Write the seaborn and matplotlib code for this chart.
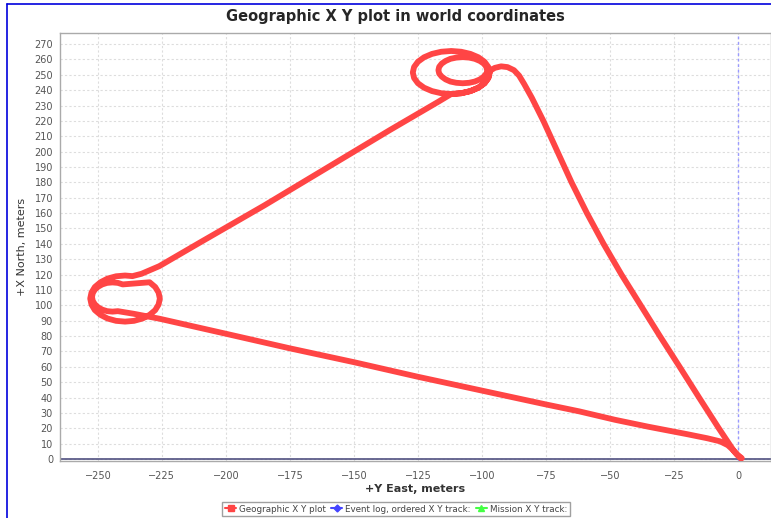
import matplotlib
matplotlib.use("Agg")
import matplotlib.pyplot as plt
import seaborn as sns
import pandas as pd
from matplotlib.lines import Line2D

# track, in flight order (east, north) in meters
leg_up_east = [1.5, 0, -1.5, -3.5, -7.5, -15.2, -22.8, -30.5, -38, -45.5, -52.5, -59, -65,
               -70.5, -76, -80.5, -83.5, -85.5, -87.5, -90, -92.5, -95, -97]
leg_up_north = [0.5, 2.5, 5, 10, 20, 40, 60, 80, 100, 120, 140, 160, 180,
                200, 220, 235, 244, 249.5, 253, 255, 255.5, 254.5, 252.5]

top_small_east = [-98.3, -99.3, -100.8, -102.8, -105, -107.5, -110, -112.3, -114.2, -115.7,
                  -116.7, -117, -116.7, -115.7, -114.2, -112.3, -110, -107.5, -105, -102.8,
                  -100.8, -99.3, -98.3, -98]
top_small_north = [250.8, 248.8, 247, 245.6, 244.8, 244.5, 244.8, 245.6, 247, 248.8,
                   250.8, 253, 255.2, 257.3, 259, 260.4, 261.2, 261.5, 261.2, 260.4,
                   259, 257.3, 255.2, 253]

top_big_east = [-97, -97.5, -99, -101.4, -104.5, -108.1, -112, -115.9, -119.5, -122.6, -125,
                -126.5, -127, -126.5, -125, -122.6, -119.5, -115.9, -112, -108.1, -104.5,
                -101.4, -99, -97.5, -97, -97.5, -99, -101.4, -104.5, -108.1, -112]
top_big_north = [251.5, 247.9, 244.5, 241.6, 239.4, 238, 237.5, 238, 239.4, 241.6, 244.5,
                 247.9, 251.5, 255.1, 258.5, 261.4, 263.6, 265, 265.5, 265, 263.6,
                 261.4, 258.5, 255.1, 251.5, 247.9, 244.5, 241.6, 239.4, 238, 237.5]

diag_east = [-117, -136, -160, -185, -210, -226, -233]
diag_north = [232.5, 214, 190, 165, 141, 125.5, 120.5]

left_big_east = [-236.5, -239.4, -242.9, -246.2, -249, -251.2, -252.5, -253, -252.5, -251.2,
                 -249, -246.2, -242.9, -239.4, -235.9, -232.6, -229.8, -227.6, -226.3,
                 -225.8, -226.3, -227.6, -229.8]
left_big_north = [119, 119.4, 118.9, 117.4, 115, 111.9, 108.3, 104.4, 100.5, 96.9,
                  93.8, 91.4, 89.9, 89.4, 89.9, 91.4, 93.8, 96.9, 100.5,
                  104.4, 108.3, 111.9, 115]

left_small_east = [-240.3, -242.2, -244.3, -246.4, -248.3, -249.9, -251.2, -252, -252.3,
                   -252, -251.2, -249.9, -248.3, -246.4, -244.3, -242.2]
left_small_north = [113.6, 114.6, 114.9, 114.6, 113.6, 112.1, 110.2, 107.9, 105.4,
                    102.9, 100.7, 98.7, 97.2, 96.2, 95.9, 96.2]

leg_back_east = [-236, -226, -200, -175, -150, -125, -100, -75, -62, -48, -35, -20, -12,
                 -7, -4, -2, -0.5, 1]
leg_back_north = [94.5, 91.3, 81.5, 72, 63, 53.5, 44.5, 35.5, 31, 25.5, 21, 16.2, 13.5,
                  11.5, 9, 6, 3, 0.5]

x_ticks = [-250, -225, -200, -175, -150, -125, -100, -75, -50, -25, 0]
y_ticks = list(range(0, 271, 10))
legend_labels = ["Geographic X Y plot", "Event log, ordered X Y track:", "Mission X Y track:"]

east = (leg_up_east + top_small_east + top_big_east + diag_east + left_big_east
        + left_small_east + leg_back_east)
north = (leg_up_north + top_small_north + top_big_north + diag_north + left_big_north
         + left_small_north + leg_back_north)
track = pd.DataFrame({"east": east, "north": north})

sns.set_style("white")
plt.rcParams['font.family'] = ['DejaVu Sans']

fig = plt.figure(figsize=(7.71, 5.18), dpi=100)
ax = fig.add_axes([60 / 771, 57 / 518, 711 / 771, 428 / 518])

ax.axvline(0, color="#9999ff", lw=1, ls=(0, (2, 2)), zorder=1)
ax.axhline(0, color="#505080", lw=1.2, zorder=1)

sns.lineplot(data=track, x="east", y="north", sort=False, estimator=None,
             color="#ff4545", lw=4.2, ax=ax, zorder=3,
             solid_joinstyle="round", solid_capstyle="round")

ax.set_xlim(-264.8, 12.9)
ax.set_ylim(-1.3, 277.2)
ax.set_xticks(x_ticks)
ax.set_yticks(y_ticks)
ax.grid(True, color="#dddddd", ls=(0, (2, 2)), lw=0.8)
ax.tick_params(axis="both", labelsize=7, colors="#555555", length=2, width=0.6,
               direction="out", pad=3)
ax.tick_params(axis="x", pad=5)
for s in ax.spines.values():
    s.set_color("#aaaaaa")
    s.set_linewidth(1)

ax.set_xlabel("+Y East, meters", fontsize=8, fontweight="bold", color="#333333", labelpad=2)
ax.set_ylabel("+X North, meters", fontsize=8, color="#333333", labelpad=5)

fig.text(395 / 771, 1 - 16 / 518, "Geographic X Y plot in world coordinates",
         ha="center", va="center", fontsize=10.5, fontweight="bold")

handles = [
    Line2D([], [], color="#ff4545", marker="s", markersize=4, lw=1.5),
    Line2D([], [], color="#4444ff", marker="D", markersize=3.5, lw=1.5),
    Line2D([], [], color="#44ff44", marker="^", markersize=4, lw=1.5),
]
fig.legend(handles, legend_labels, loc="center", bbox_to_anchor=(396 / 771, 1 - 509 / 518),
           ncol=3, fontsize=6.3, frameon=True, fancybox=False, edgecolor="#888888",
           handlelength=1.3, handletextpad=0.3, columnspacing=0.6, borderpad=0.3,
           labelcolor="#444444")

# blue frame on the left and top of the picture
fig.add_artist(Line2D([7 / 771, 7 / 771], [0, 1 - 4 / 518], color="#0000dd", lw=1.2,
                      transform=fig.transFigure))
fig.add_artist(Line2D([7 / 771, 1], [1 - 4 / 518, 1 - 4 / 518], color="#0000dd", lw=1.2,
                      transform=fig.transFigure))

fig.savefig("out.png", dpi=100)
